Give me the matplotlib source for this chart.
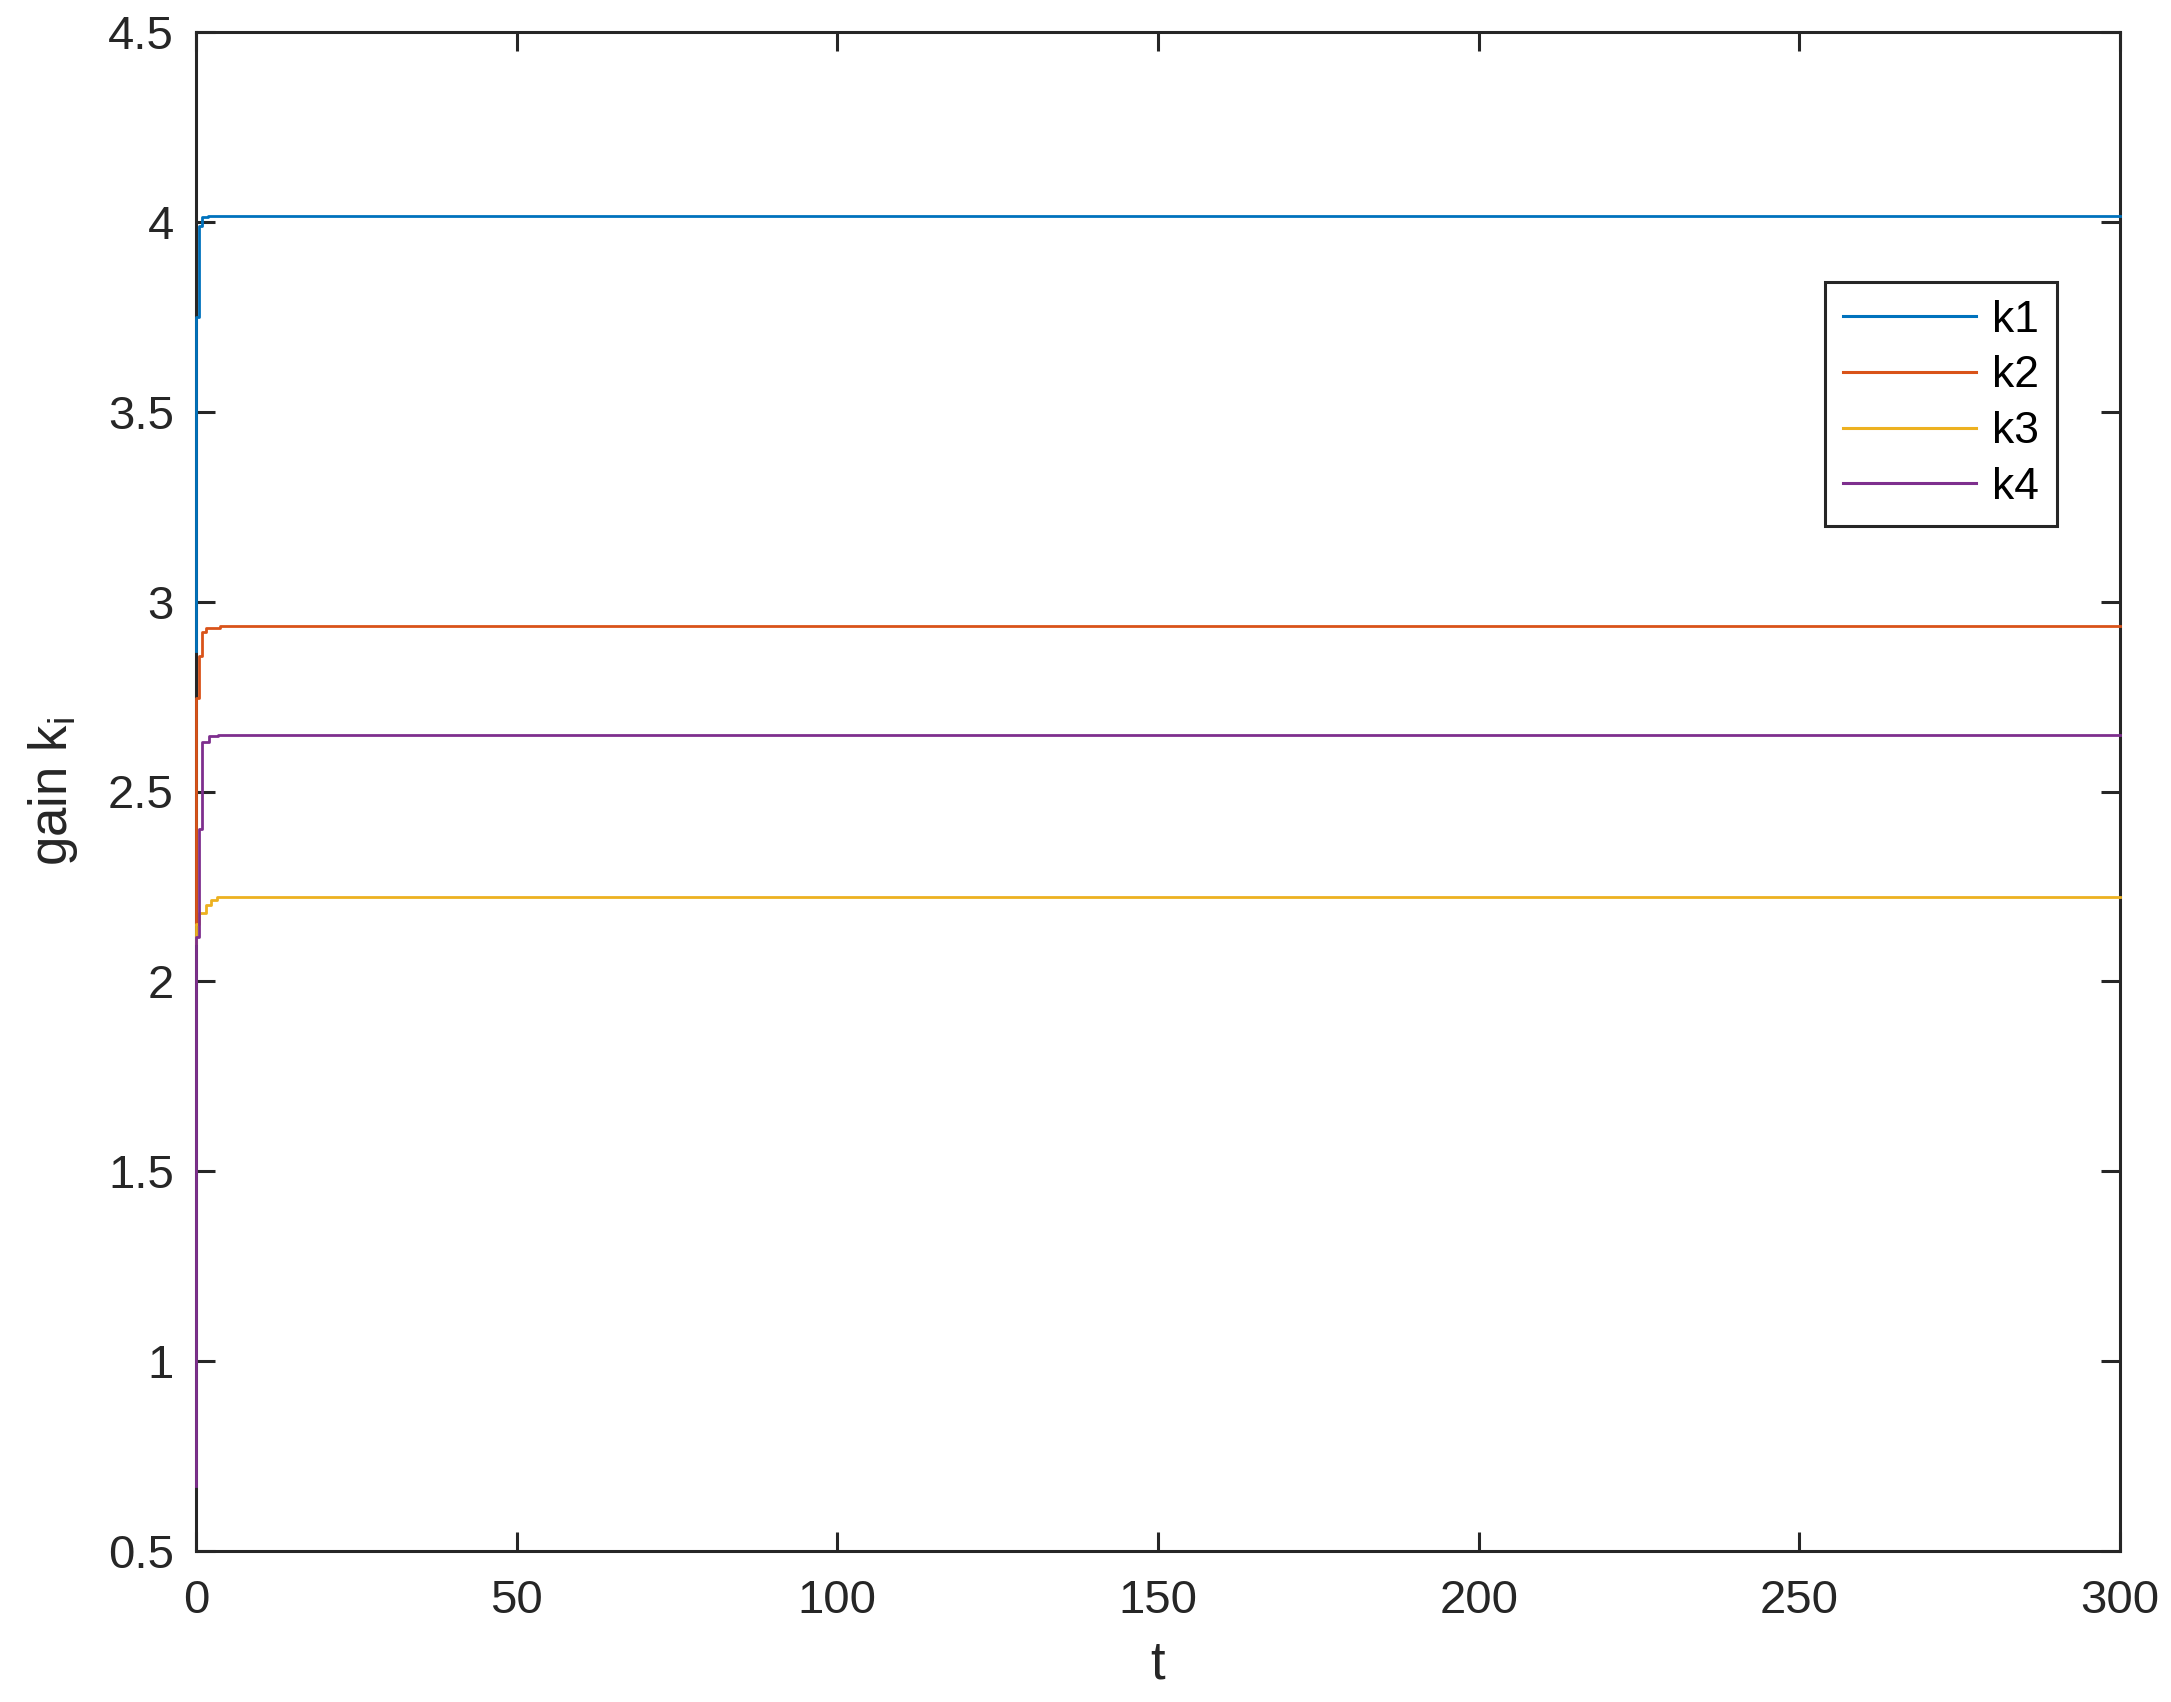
import numpy as np
import matplotlib.pyplot as plt
from matplotlib.ticker import FuncFormatter

# gain trajectories (step-held samples)
t_k1 = [0, 0, 0.5, 1.0, 1.8, 300]
k1 = [2.87, 3.75, 3.99, 4.013, 4.016, 4.016]

t_k2 = [0, 0, 0.5, 1.0, 1.5, 3.7, 300]
k2 = [2.15, 2.745, 2.857, 2.92, 2.93, 2.935, 2.935]

t_k3 = [0, 0, 0.5, 1.5, 2.3, 3.3, 300]
k3 = [2.10, 2.15, 2.18, 2.20, 2.215, 2.221, 2.221]

t_k4 = [0, 0, 0.5, 1.0, 2.0, 3.5, 300]
k4 = [0.67, 2.116, 2.40, 2.63, 2.645, 2.65, 2.65]

labels = ['k1', 'k2', 'k3', 'k4']
colors = ['#0072BD', '#D95319', '#EDB120', '#7E2F8E']

xticks = np.arange(0, 301, 50)
yticks = np.arange(0.5, 4.51, 0.5)

plt.rcParams['font.family'] = ['Liberation Sans', 'DejaVu Sans']

fig = plt.figure(figsize=(21.71, 17.02), dpi=100)
ax = fig.add_axes([196 / 2171, 1 - 1551 / 1702, (2120 - 196) / 2171, (1551 - 32) / 1702])

series = [(t_k1, k1), (t_k2, k2), (t_k3, k3), (t_k4, k4)]
for (t, k), lab, c in zip(series, labels, colors):
    # drawn over the spine, as in the original
    ax.plot(t, k, drawstyle='steps-post', color=c, lw=2.0, label=lab,
            clip_on=False, zorder=3)

ax.set_xlim(0, 300)
ax.set_ylim(0.5, 4.5)
ax.set_xticks(xticks)
ax.set_yticks(yticks)
ax.yaxis.set_major_formatter(FuncFormatter(lambda v, p: '%g' % v))

for s in ax.spines.values():
    s.set_linewidth(2.2)
    s.set_color('#262626')
ax.tick_params(direction='in', length=14, width=2.2, color='#262626',
               labelsize=34, labelcolor='#262626', top=True, right=True)
ax.tick_params(axis='y', pad=16)
ax.tick_params(axis='x', pad=20)

ax.set_xlabel('t', fontsize=38, color='#262626', labelpad=12)
ax.set_ylabel(r'gain k$_\mathregular{i}$', fontsize=38, color='#262626', labelpad=20)

leg = ax.legend(loc='upper right', bbox_to_anchor=(0.967, 0.8354), fontsize=32,
                frameon=True, fancybox=False, framealpha=1, edgecolor='#262626',
                borderaxespad=0, handlelength=3.0, handletextpad=0.35,
                labelspacing=0.33, borderpad=0.4)
leg.get_frame().set_linewidth(2.2)
leg.set_zorder(5)
for line in leg.get_lines():
    line.set_linewidth(2.2)

fig.savefig('out.png', dpi=100)
